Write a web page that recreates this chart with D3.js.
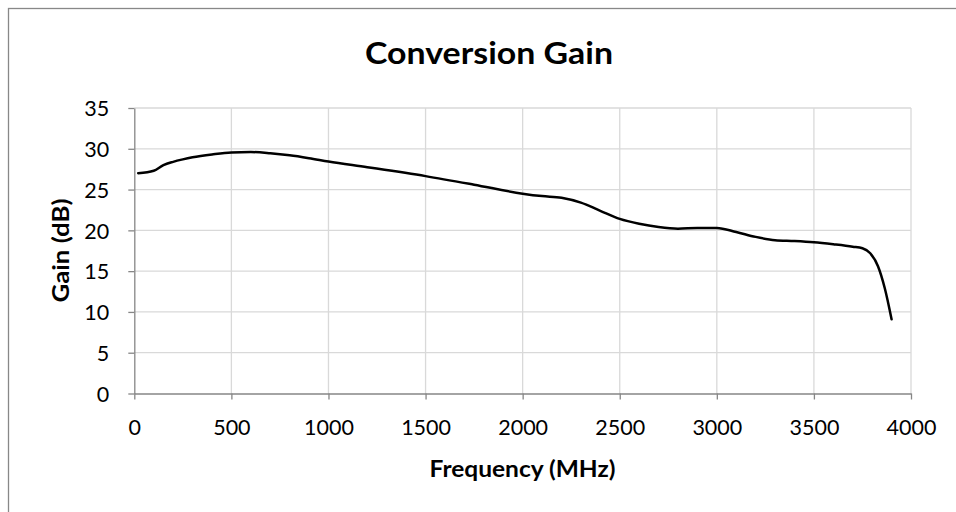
<!DOCTYPE html>
<html>
<head>
<meta charset="utf-8">
<script src="https://cdn.jsdelivr.net/npm/d3@7"></script>
<style>
  html, body { margin: 0; padding: 0; background: #fff; }
  svg { display: block; }
  text { font-family: Lato, "Open Sans", sans-serif; fill: #000; }
</style>
</head>
<body>
<svg id="chart" width="956" height="512"></svg>
<script>
// ---- data ----
const frequencyMHz = [20, 100, 150, 200, 250, 300, 400, 500, 600, 700, 800, 900, 1000, 1200, 1500, 1750, 2000, 2100, 2200, 2300, 2400, 2500, 2600, 2700, 2800, 2900, 3000, 3100, 3200, 3300, 3400, 3500, 3600, 3700, 3750, 3790, 3830, 3865, 3900];
const gainDb =       [27.0, 27.3, 28.0, 28.4, 28.7, 28.95, 29.3, 29.55, 29.6, 29.45, 29.2, 28.85, 28.45, 27.75, 26.65, 25.6, 24.5, 24.2, 24.0, 23.4, 22.4, 21.4, 20.8, 20.4, 20.2, 20.3, 20.3, 19.8, 19.2, 18.8, 18.7, 18.55, 18.3, 18.0, 17.8, 17.2, 15.6, 12.9, 9.1];
const xTicks = [0, 500, 1000, 1500, 2000, 2500, 3000, 3500, 4000];
const yTicks = [0, 5, 10, 15, 20, 25, 30, 35];
const titleText = "Conversion Gain";
const xTitle = "Frequency (MHz)";
const yTitle = "Gain (dB)";

const svg = d3.select("#chart");

// chart area border (extends beyond visible canvas to the right/bottom)
svg.append("rect")
  .attr("x", 8.5).attr("y", 8.5).attr("width", 962).attr("height", 520)
  .attr("fill", "#fff").attr("stroke", "#888").attr("stroke-width", 1.3);

const x = d3.scaleLinear().domain([0, 4000]).range([134.3, 911]);
const y = d3.scaleLinear().domain([0, 35]).range([393.5, 108]);

// gridlines
svg.append("g").selectAll("line.h").data(yTicks.filter(d => d > 0)).join("line")
  .attr("x1", x(0)).attr("x2", x(4000))
  .attr("y1", d => y(d)).attr("y2", d => y(d))
  .attr("stroke", "#d9d9d9").attr("stroke-width", 1.3);
svg.append("g").selectAll("line.v").data(xTicks.filter(d => d > 0)).join("line")
  .attr("x1", d => x(d)).attr("x2", d => x(d))
  .attr("y1", y(0)).attr("y2", y(35))
  .attr("stroke", "#d9d9d9").attr("stroke-width", 1.3);

// axes
const xAxis = svg.append("g").attr("transform", `translate(0,${y(0)})`)
  .call(d3.axisBottom(x).tickValues(xTicks).tickSize(6).tickSizeOuter(0).tickFormat(d3.format("d")));
const yAxis = svg.append("g").attr("transform", `translate(${x(0)},0)`)
  .call(d3.axisLeft(y).tickValues(yTicks).tickSize(6).tickSizeOuter(0).tickFormat(d3.format("d")));
[xAxis, yAxis].forEach(g => {
  g.select(".domain").attr("stroke", "#868686").attr("stroke-width", 1.3);
  g.selectAll(".tick line").attr("stroke", "#868686").attr("stroke-width", 1.3);
  g.selectAll(".tick text").attr("font-family", "Lato, 'Open Sans', sans-serif")
    .attr("font-size", 21.5).attr("fill", "#000");
});
xAxis.selectAll(".tick text").attr("y", 0).attr("dy", 0).attr("transform", "translate(0,41.5)");
yAxis.selectAll(".tick text").attr("x", -25).attr("dy", "0.36em");

// line
const line = d3.line()
  .x((d, i) => x(frequencyMHz[i]))
  .y(d => y(d))
  .curve(d3.curveMonotoneX);
svg.append("path")
  .datum(gainDb)
  .attr("d", line)
  .attr("fill", "none")
  .attr("stroke", "#000")
  .attr("stroke-width", 2.5)
  .attr("stroke-linejoin", "round")
  .attr("stroke-linecap", "round");

// titles
svg.append("text")
  .attr("x", 489).attr("y", 63.5).attr("text-anchor", "middle")
  .attr("font-size", 30).attr("font-weight", "bold")
  .attr("textLength", 248).attr("lengthAdjust", "spacingAndGlyphs")
  .text(titleText);
svg.append("text")
  .attr("x", 522.5).attr("y", 477).attr("text-anchor", "middle")
  .attr("font-size", 23.5).attr("font-weight", "bold")
  .attr("textLength", 186).attr("lengthAdjust", "spacingAndGlyphs")
  .text(xTitle);
svg.append("text")
  .attr("transform", "translate(69,250.5) rotate(-90)")
  .attr("text-anchor", "middle")
  .attr("font-size", 23.5).attr("font-weight", "bold")
  .attr("textLength", 104).attr("lengthAdjust", "spacingAndGlyphs")
  .text(yTitle);
</script>
</body>
</html>
